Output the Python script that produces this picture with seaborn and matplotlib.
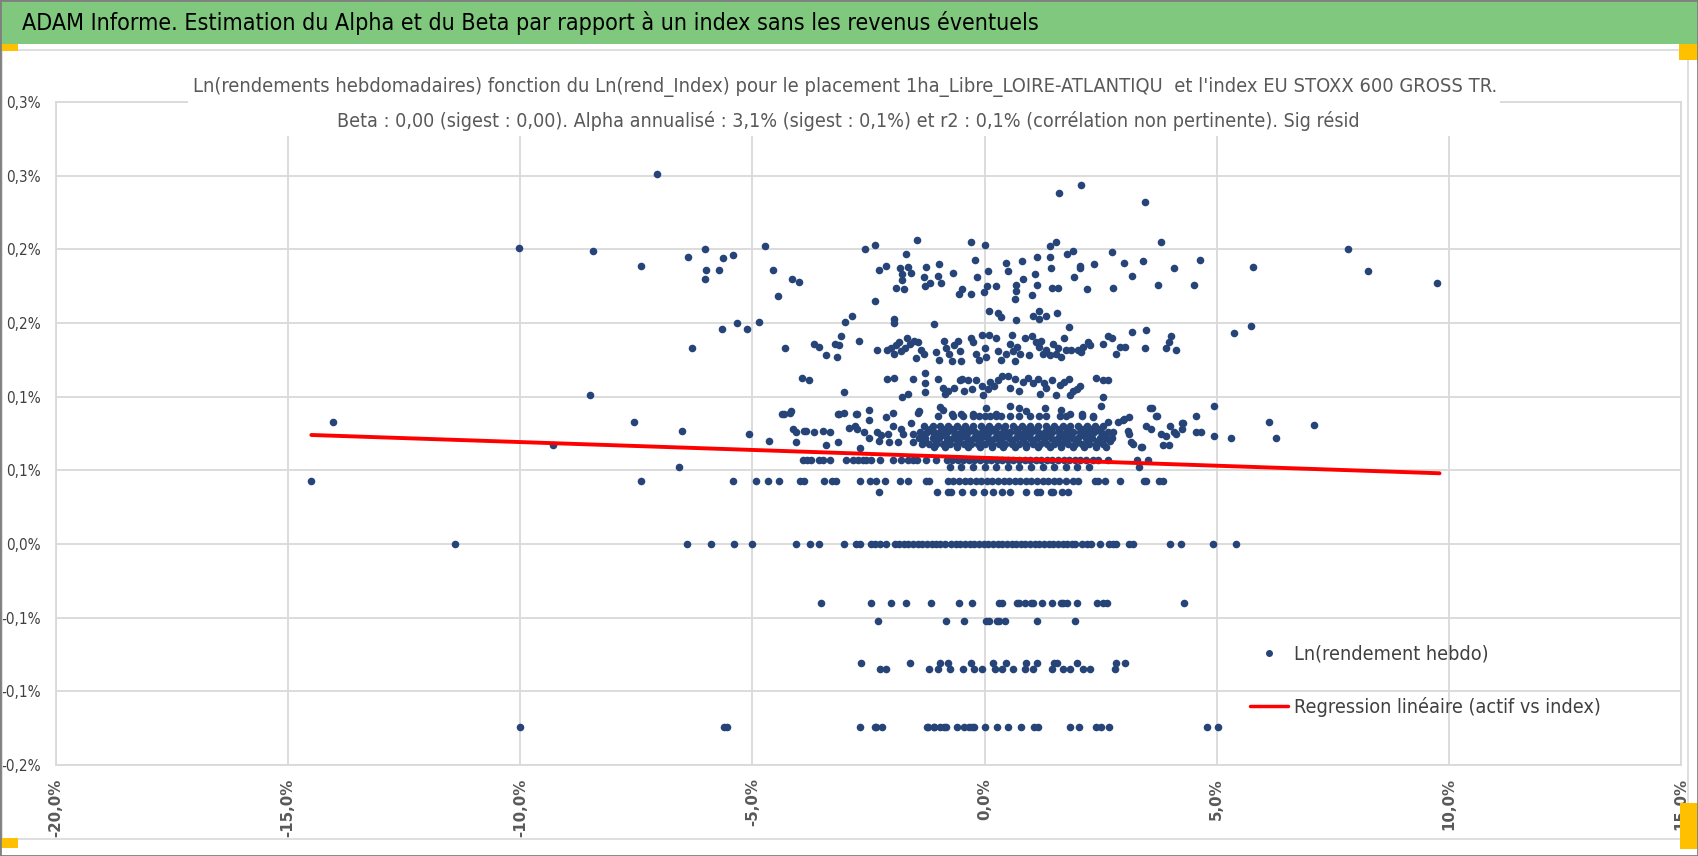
import matplotlib
matplotlib.use('Agg')
import matplotlib.pyplot as plt
import seaborn as sns
import pandas as pd
from matplotlib.patches import Rectangle
from matplotlib.lines import Line2D

sns.set_theme(style='white')
plt.rcParams['font.family'] = ['DejaVu Sans']
plt.rcParams['font.stretch'] = 'condensed'

# --- data (x = Ln(rend_Index) in %, y = Ln(rendement hebdo) in %) ---
row_000_x = [-11.4, -6.4, -5.9, -5.4, -5.0, -4.06, -3.75, -3.56, -3.02, -2.77, -2.69, -2.44, -2.37,
             -2.25, -2.12, -1.94, -1.84, -1.74, -1.64, -1.54, -1.44, -1.34, -1.24, -1.14, -1.04,
             -0.95, -0.86, -0.72, -0.62, -0.52, -0.42, -0.32, -0.22, -0.12, -0.02, 0.08, 0.18,
             0.28, 0.38, 0.48, 0.58, 0.68, 0.78, 0.88, 0.98, 1.08, 1.18, 1.28, 1.38, 1.48, 1.58,
             1.68, 1.78, 1.88, 1.94, 2.1, 2.2, 2.3, 2.48, 2.68, 2.76, 2.84, 3.11, 3.2, 4.0, 4.24,
             4.93, 5.41]
row_m040_x = [-3.53, -2.44, -2.02, -1.69, -1.15, -0.56, -0.28, 0.31, 0.37, 0.70, 0.75, 0.86, 1.0,
              1.05, 1.24, 1.45, 1.65, 1.69, 1.77, 1.99, 2.43, 2.55, 2.64, 4.3]
row_m052_x = [-2.3, -0.83, -0.45, 0.04, 0.09, 0.27, 0.32, 0.45, 1.13, 1.94]
row_m082_x = [-2.66, -1.6, -0.95, -0.79, -0.29, 0.18, 0.47, 0.9, 1.13, 1.49, 1.57, 1.98, 2.84, 3.03]
row_m085_x = [-2.26, -2.12, -1.2, -1.0, -0.75, -0.47, -0.23, -0.05, 0.23, 0.38, 0.61, 0.86, 1.05,
              1.45, 1.69, 1.83, 2.13, 2.28, 2.8]
row_m124_x = [-10.0, -5.62, -5.55, -2.68, -2.37, -2.34, -2.2, -1.24, -1.22, -1.1, -1.08, -0.97,
              -0.88, -0.83, -0.59, -0.45, -0.34, -0.27, -0.22, 0.01, 0.27, 0.5, 0.79, 1.06, 1.16,
              1.85, 2.03, 2.41, 2.5, 2.67, 4.78, 5.03]
row_035_x = [-2.28, -1.02, -0.79, -0.73, -0.48, -0.26, -0.01, 0.19, 0.37, 0.55, 0.9, 1.12, 1.19,
             1.42, 1.48, 1.67, 1.8]
row_043_x = [-14.5, -7.4, -5.42, -4.92, -4.66, -4.43, -3.97, -3.88, -3.45, -3.28, -3.21, -2.68,
             -2.46, -2.33, -2.15, -1.83, -1.65, -1.26, -1.19, -0.79, -0.67, -0.55, -0.43, -0.31,
             -0.19, -0.07, 0.05, 0.17, 0.29, 0.41, 0.53, 0.65, 0.77, 0.89, 1.01, 1.13, 1.25, 1.37,
             1.49, 1.61, 1.76, 1.9, 2.01, 2.37, 2.44, 2.6, 2.92, 3.44, 3.48, 3.76, 3.85]
row_052_x = [-6.59, -0.75, -0.5, -0.25, 0.0, 0.25, 0.5, 0.75, 1.0, 1.25, 1.5, 1.75, 2.0, 2.25, 3.32]
row_056_x = [-3.92, -3.83, -3.74, -3.56, -3.47, -3.33, -2.98, -2.84, -2.73, -2.61, -2.55, -2.44,
             -2.26, -1.97, -1.8, -1.65, -1.54, -1.46, -1.26, -1.04, -0.82, -0.7, -0.58, -0.46,
             -0.34, -0.22, -0.1, 0.02, 0.14, 0.26, 0.38, 0.5, 0.62, 0.74, 0.86, 0.98, 1.1, 1.22,
             1.34, 1.46, 1.58, 1.7, 1.82, 1.94, 2.06, 2.18, 2.34, 2.44, 2.66, 3.28, 3.52]
band_066_x = [-1.1, -0.85, -0.6, -0.35, -0.1, 0.15, 0.4, 0.65, 0.9, 1.15, 1.4, 1.65, 1.9, 2.15,
              2.4, 2.62]
band_068_x = [-1.35, -1.2, -1.05, -0.9, -0.75, -0.6, -0.45, -0.3, -0.15, 0.0, 0.15, 0.3, 0.45,
              0.6, 0.75, 0.9, 1.05, 1.2, 1.35, 1.5, 1.65, 1.8, 1.95, 2.1, 2.25, 2.4, 2.55]
band_070_x = [-1.28, -1.05, -0.82, -0.58, -0.35, -0.12, 0.12, 0.35, 0.58, 0.82, 1.05, 1.28, 1.52,
              1.75, 1.98, 2.22, 2.45, 2.7]
band_072_x = [-1.42, -1.28, -1.12, -0.98, -0.82, -0.68, -0.52, -0.38, -0.22, -0.08, 0.08, 0.22,
              0.38, 0.52, 0.68, 0.82, 0.98, 1.12, 1.28, 1.42, 1.58, 1.72, 1.88, 2.02, 2.18, 2.32,
              2.48, 2.62, 2.74]
band_074_x = [-1.32, -1.08, -0.88, -0.62, -0.42, -0.18, 0.02, 0.28, 0.48, 0.72, 0.92, 1.18, 1.38,
              1.62, 1.82, 2.08, 2.28, 2.56]
band_076_x = [-1.4, -1.25, -1.1, -0.95, -0.8, -0.65, -0.5, -0.35, -0.2, -0.05, 0.1, 0.25, 0.4,
              0.55, 0.7, 0.85, 1.0, 1.15, 1.3, 1.45, 1.6, 1.75, 1.9, 2.05, 2.2, 2.35, 2.5, 2.65]
band_078_x = [-1.18, -0.9, -0.7, -0.48, -0.3, -0.02, 0.2, 0.42, 0.7, 0.9, 1.1, 1.38, 1.6, 1.8,
              2.12, 2.3, 2.45]
band_080_x = [-1.3, -1.12, -0.95, -0.78, -0.6, -0.42, -0.25, -0.08, 0.1, 0.28, 0.45, 0.62, 0.8,
              0.98, 1.15, 1.32, 1.5, 1.68, 1.85, 2.02, 2.2, 2.38, 2.55]
row_086_x = [-1.0, -0.68, -0.47, -0.25, -0.11, 0.0, 0.11, 0.24, 0.36, 0.54, 0.75, 0.97, 1.18,
             1.33, 1.62, 1.76, 2.1, 2.33]

# scattered points around the bands, read one by one
scat_x = [-14.03, -9.3, -7.56, -6.52, -5.08, -4.64, -4.36, -4.33, -4.19, -4.17, -4.12, -4.06,
          -4.06, -3.9, -3.84, -3.68, -3.48, -3.41, -3.34, -3.16, -3.13, -3.02, -3.16, -2.92,
          -2.8, -2.76, -2.75, -2.74, -2.69, -2.6, -2.49, -2.48, -2.48, -2.32, -2.27, -2.23,
          -2.12, -2.09, -2.05, -1.98, -1.98, -1.87, -1.8, -1.75, -1.59, -1.55, -1.54, -1.44,
          -1.42, -1.37, -0.97, -0.9, -0.7, -0.5, -0.26, 0.03, 0.25, 0.54, 0.75, 0.89, 1.31,
          1.65, 1.83, 2.1, 2.33, 2.51, 2.66, 2.76, 2.87, 2.98, 3.0, 3.08, 3.1, 3.11, 3.16, 3.2,
          3.36, 3.39, 3.48, 3.57, 3.58, 3.6, 3.69, 3.71, 3.8, 3.84, 3.9, 3.97, 3.99, 4.07, 4.12,
          4.25, 4.26, 4.27, 4.55, 4.56, 4.67, 4.94, 4.95, 5.31, 6.13, 6.27, 7.09]
scat_y = [0.083, 0.067, 0.083, 0.077, 0.075, 0.070, 0.088, 0.088, 0.089, 0.090, 0.078, 0.069,
          0.076, 0.077, 0.077, 0.076, 0.077, 0.067, 0.076, 0.088, 0.088, 0.089, 0.069, 0.079,
          0.080, 0.088, 0.078, 0.088, 0.065, 0.076, 0.091, 0.084, 0.072, 0.076, 0.070, 0.074,
          0.086, 0.075, 0.069, 0.089, 0.080, 0.069, 0.078, 0.075, 0.082, 0.075, 0.069, 0.089,
          0.090, 0.075, 0.093, 0.091, 0.088, 0.088, 0.088, 0.092, 0.088, 0.094, 0.092, 0.090,
          0.092, 0.091, 0.088, 0.088, 0.086, 0.094, 0.083, 0.076, 0.083, 0.084, 0.085, 0.077,
          0.086, 0.075, 0.069, 0.068, 0.066, 0.066, 0.080, 0.092, 0.078, 0.092, 0.087, 0.087,
          0.075, 0.067, 0.073, 0.067, 0.080, 0.076, 0.075, 0.078, 0.082, 0.082, 0.076, 0.087,
          0.076, 0.094, 0.073, 0.072, 0.083, 0.072, 0.081]

mid_x = [-8.49, -3.93, -3.79, -3.02, -2.1, -1.95, -1.78, -1.65, -1.55, -1.28, -1.28, -1.28,
         -1.0, -0.9, -0.86, -0.79, -0.66, -0.54, -0.49, -0.44, -0.36, -0.27, -0.18, -0.05,
         -0.04, 0.07, 0.11, 0.21, 0.29, 0.38, 0.5, 0.54, 0.65, 0.74, 0.83, 0.94, 1.04, 1.15,
         1.19, 1.29, 1.33, 1.46, 1.54, 1.62, 1.72, 1.82, 1.83, 1.9, 1.99, 2.05, 2.4, 2.55, 2.55,
         2.66]
mid_y = [0.101, 0.113, 0.111, 0.103, 0.112, 0.113, 0.100, 0.102, 0.112, 0.116, 0.109, 0.103,
         0.112, 0.106, 0.102, 0.104, 0.106, 0.111, 0.112, 0.104, 0.111, 0.105, 0.111, 0.107,
         0.101, 0.105, 0.110, 0.107, 0.111, 0.114, 0.114, 0.106, 0.112, 0.104, 0.110, 0.113,
         0.109, 0.112, 0.102, 0.109, 0.106, 0.111, 0.101, 0.108, 0.110, 0.112, 0.101, 0.104,
         0.105, 0.107, 0.113, 0.111, 0.100, 0.111]

band_13_x = [-6.3, -4.29, -3.67, -3.56, -3.41, -3.23, -3.18, -3.13, -3.09, -2.71, -2.31, -2.1,
             -2.01, -1.96, -1.9, -1.85, -1.8, -1.72, -1.67, -1.6, -1.52, -1.47, -1.44, -1.37,
             -1.31, -1.04, -0.98, -0.88, -0.83, -0.76, -0.7, -0.65, -0.57, -0.54, -0.5, -0.29,
             -0.24, -0.18, -0.11, -0.05, 0.0, 0.04, 0.09, 0.25, 0.29, 0.36, 0.47, 0.54, 0.58, 0.61,
             0.65, 0.7, 0.76, 0.88, 0.96, 1.03, 1.1, 1.17, 1.22, 1.26, 1.33, 1.4, 1.47, 1.54, 1.58,
             1.65, 1.72, 1.76, 1.87, 2.01, 2.08, 2.13, 2.23, 2.26, 2.55, 2.66, 2.75, 2.84, 2.91,
             3.03, 3.18, 3.45, 3.48, 3.9, 3.97, 4.02, 4.13, 5.38, 5.73]
band_13_y = [0.133, 0.133, 0.136, 0.134, 0.128, 0.136, 0.127, 0.135, 0.141, 0.138, 0.132, 0.132,
             0.133, 0.129, 0.135, 0.137, 0.131, 0.133, 0.140, 0.136, 0.138, 0.126, 0.137, 0.132,
             0.129, 0.130, 0.125, 0.138, 0.133, 0.129, 0.124, 0.135, 0.138, 0.131, 0.124, 0.140,
             0.137, 0.129, 0.125, 0.142, 0.133, 0.127, 0.142, 0.140, 0.131, 0.125, 0.129, 0.136,
             0.142, 0.131, 0.124, 0.134, 0.129, 0.140, 0.128, 0.141, 0.137, 0.134, 0.138, 0.129,
             0.132, 0.128, 0.136, 0.129, 0.133, 0.127, 0.140, 0.132, 0.132, 0.132, 0.130, 0.134,
             0.137, 0.135, 0.136, 0.141, 0.140, 0.129, 0.134, 0.134, 0.144, 0.133, 0.145, 0.133,
             0.137, 0.141, 0.132, 0.143, 0.148]

upper_x = [-10.02, -8.44, -7.4, -7.05, -6.39, -6.03, -6.01, -6.03, -5.73, -5.64, -5.42, -5.65,
           -5.33, -5.11, -4.85, -4.74, -4.55, -4.45, -4.14, -4.0, -3.0, -2.85, -2.57, -2.37,
           -2.36, -2.28, -2.12, -1.95, -1.95, -1.9, -1.83, -1.78, -1.77, -1.74, -1.69, -1.64,
           -1.58, -1.46, -1.31, -1.29, -1.27, -1.17, -1.1, -1.0, -0.99, -0.94, -0.68, -0.55,
           -0.49, -0.3, -0.3, -0.21, -0.16, -0.02, 0.0, 0.05, 0.08, 0.1, 0.24, 0.29, 0.35, 0.46,
           0.5, 0.65, 0.67, 0.67, 0.68, 0.8, 0.83, 1.02, 1.04, 1.09, 1.13, 1.13, 1.17, 1.17,
           1.33, 1.4, 1.4, 1.42, 1.45, 1.53, 1.56, 1.58, 1.6, 1.78, 1.82, 1.9, 1.92, 2.06, 2.06,
           2.08, 2.2, 2.36, 2.74, 2.76, 3.0, 3.17, 3.41, 3.45, 3.73, 3.81, 4.09, 4.51, 4.65,
           5.78, 7.82, 8.26, 9.74]
upper_y = [0.201, 0.199, 0.189, 0.251, 0.195, 0.200, 0.186, 0.180, 0.186, 0.194, 0.196, 0.146,
           0.150, 0.146, 0.151, 0.202, 0.186, 0.168, 0.180, 0.178, 0.151, 0.155, 0.200, 0.165,
           0.203, 0.186, 0.189, 0.153, 0.150, 0.174, 0.187, 0.183, 0.179, 0.173, 0.197, 0.188,
           0.184, 0.206, 0.181, 0.175, 0.188, 0.177, 0.149, 0.182, 0.190, 0.177, 0.184, 0.170,
           0.173, 0.205, 0.170, 0.193, 0.181, 0.171, 0.203, 0.175, 0.185, 0.158, 0.175, 0.157,
           0.154, 0.191, 0.185, 0.166, 0.172, 0.152, 0.176, 0.192, 0.180, 0.169, 0.155, 0.183,
           0.195, 0.176, 0.158, 0.153, 0.155, 0.202, 0.195, 0.187, 0.174, 0.205, 0.157, 0.174,
           0.238, 0.197, 0.147, 0.199, 0.181, 0.189, 0.187, 0.244, 0.173, 0.190, 0.198, 0.174,
           0.191, 0.182, 0.192, 0.232, 0.176, 0.205, 0.187, 0.176, 0.193, 0.188, 0.200, 0.185,
           0.177]

# regression line (actif vs index)
reg_x = [-14.5, 9.8]
reg_y = [0.074, 0.048]

x_ticks = [-20, -15, -10, -5, 0, 5, 10, 15]
x_labels = ['-20,0%', '-15,0%', '-10,0%', '-5,0%', '0,0%', '5,0%', '10,0%', '15,0%']
y_ticks = [-0.15, -0.10, -0.05, 0.0, 0.05, 0.10, 0.15, 0.20, 0.25, 0.30]
y_labels = ['-0,2%', '-0,1%', '-0,1%', '0,0%', '0,1%', '0,1%', '0,2%', '0,2%', '0,3%', '0,3%']

header = "ADAM Informe. Estimation du Alpha et du Beta par rapport à un index sans les revenus éventuels"
title_1 = ("Ln(rendements hebdomadaires) fonction du Ln(rend_Index) pour le placement "
           "1ha_Libre_LOIRE-ATLANTIQU  et l'index EU STOXX 600 GROSS TR.")
title_2 = ("Beta : 0,00 (sigest : 0,00). Alpha annualisé : 3,1% (sigest : 0,1%) et r2 : 0,1% "
           "(corrélation non pertinente). Sig résid")
legend_labels = ['Ln(rendement hebdo)', 'Regression linéaire (actif vs index)']

# --- assemble points ---
levels = [(row_000_x, 0.0), (row_m040_x, -0.040), (row_m052_x, -0.052), (row_m082_x, -0.081),
          (row_m085_x, -0.085), (row_m124_x, -0.124), (row_035_x, 0.035), (row_043_x, 0.043),
          (row_052_x, 0.052), (row_056_x, 0.057), (band_066_x, 0.066), (band_068_x, 0.068),
          (band_070_x, 0.070), (band_072_x, 0.072), (band_074_x, 0.074), (band_076_x, 0.076),
          (band_078_x, 0.078), (band_080_x, 0.080), (row_086_x, 0.087)]
frames = [pd.DataFrame({'x': xs, 'y': [lv] * len(xs)}) for xs, lv in levels]
for xs, ys in [(scat_x, scat_y), (mid_x, mid_y), (band_13_x, band_13_y), (upper_x, upper_y)]:
    frames.append(pd.DataFrame({'x': xs, 'y': ys}))
pts = pd.concat(frames, ignore_index=True)

W, H = 1698, 856
fig = plt.figure(figsize=(W / 100, H / 100), dpi=100)
fig.patch.set_facecolor('white')


def fx(px):
    return px / W


def fy(py):
    return 1 - py / H


def fit_width(txt, target):
    r = fig.canvas.get_renderer()
    w = txt.get_window_extent(r).width
    txt.set_fontsize(txt.get_fontsize() * target / w)


# frame, header band and the small selection marks
fig.add_artist(Rectangle((fx(2), fy(839)), fx(1686), 789 / H, transform=fig.transFigure,
                         fill=False, edgecolor='#d9d9d9', lw=1.2, zorder=1))
fig.add_artist(Rectangle((0, fy(44)), 1, 44 / H, transform=fig.transFigure,
                         facecolor='#80c87d', edgecolor='none', zorder=1))
for (x0, y0, x1, y1) in [(0, 44, 18, 51), (0, 838, 18, 848), (1679, 44, 1698, 60), (1680, 803, 1698, 849)]:
    fig.add_artist(Rectangle((fx(x0), fy(y1)), fx(x1 - x0), (y1 - y0) / H, transform=fig.transFigure,
                             facecolor='#ffc000', edgecolor='none', zorder=2))
fig.add_artist(Rectangle((0, 0), 1, 1, transform=fig.transFigure, fill=False,
                         edgecolor='#7f7f7f', lw=2, zorder=5))

ht = fig.text(fx(22), fy(23), header, fontsize=17, color='black', ha='left', va='center',
              zorder=3)
fit_width(ht, 1013)

# plot area
ax = fig.add_axes([fx(56), fy(765), fx(1681 - 56), (765 - 102) / H])
ax.set_facecolor('white')
sns.scatterplot(data=pts, x='x', y='y', ax=ax, color='#264478', s=30, linewidth=0, zorder=3,
                legend=False)
sns.lineplot(x=reg_x, y=reg_y, ax=ax, color='#ff0000', lw=2.8, zorder=4)
ax.set_xlim(-20, 15)
ax.set_ylim(-0.15, 0.30)
ax.set_xticks(x_ticks)
ax.set_xticklabels(x_labels, rotation=90, fontweight='bold', fontstretch='normal',
                   fontsize=10.8, color='#595959')
ax.set_yticks(y_ticks)
ax.set_yticklabels(y_labels, fontsize=11, color='#404040')
ax.tick_params(axis='x', length=0, pad=9.5)
ax.tick_params(axis='y', length=0, pad=11)
ax.grid(True, color='#d9d9d9', lw=1.3)
for sp in ax.spines.values():
    sp.set_color('#d9d9d9')
    sp.set_linewidth(1.3)
ax.set_xlabel('')
ax.set_ylabel('')

# keep the y labels inside the left margin
fig.canvas.draw()
rend = fig.canvas.get_renderer()
wmax = max(t.get_window_extent(rend).width for t in ax.get_yticklabels())
if wmax > 40:
    for t in ax.get_yticklabels():
        t.set_fontsize(11 * 40 / wmax)

# chart title over the top gridline
fig.add_artist(Rectangle((fx(188), fy(136)), fx(1312), 66 / H, transform=fig.transFigure,
                         facecolor='white', edgecolor='none', zorder=3))
t1 = fig.text(fx(845), fy(87), title_1, ha='center', va='center', color='#595959',
              fontsize=14, zorder=4)
t2 = fig.text(fx(848), fy(121), title_2, ha='center', va='center', color='#595959',
              fontsize=14, zorder=4)
fit_width(t1, 1310)
fit_width(t2, 1024)

handles = [Line2D([], [], marker='o', ls='', color='#264478', markersize=4),
           Line2D([], [], color='#ff0000', lw=2.5)]
leg = ax.legend(handles, legend_labels, loc='upper left', bbox_to_anchor=(fx(1250), fy(645)),
                bbox_transform=fig.transFigure, frameon=False, borderpad=0, borderaxespad=0,
                handlelength=1.8, handletextpad=0.3, labelspacing=1.6, fontsize=15)
for t in leg.get_texts():
    t.set_color('#404040')
fit_width(leg.get_texts()[1], 308)
leg.get_texts()[0].set_fontsize(leg.get_texts()[1].get_fontsize())

fig.savefig('out.png', dpi=100)
